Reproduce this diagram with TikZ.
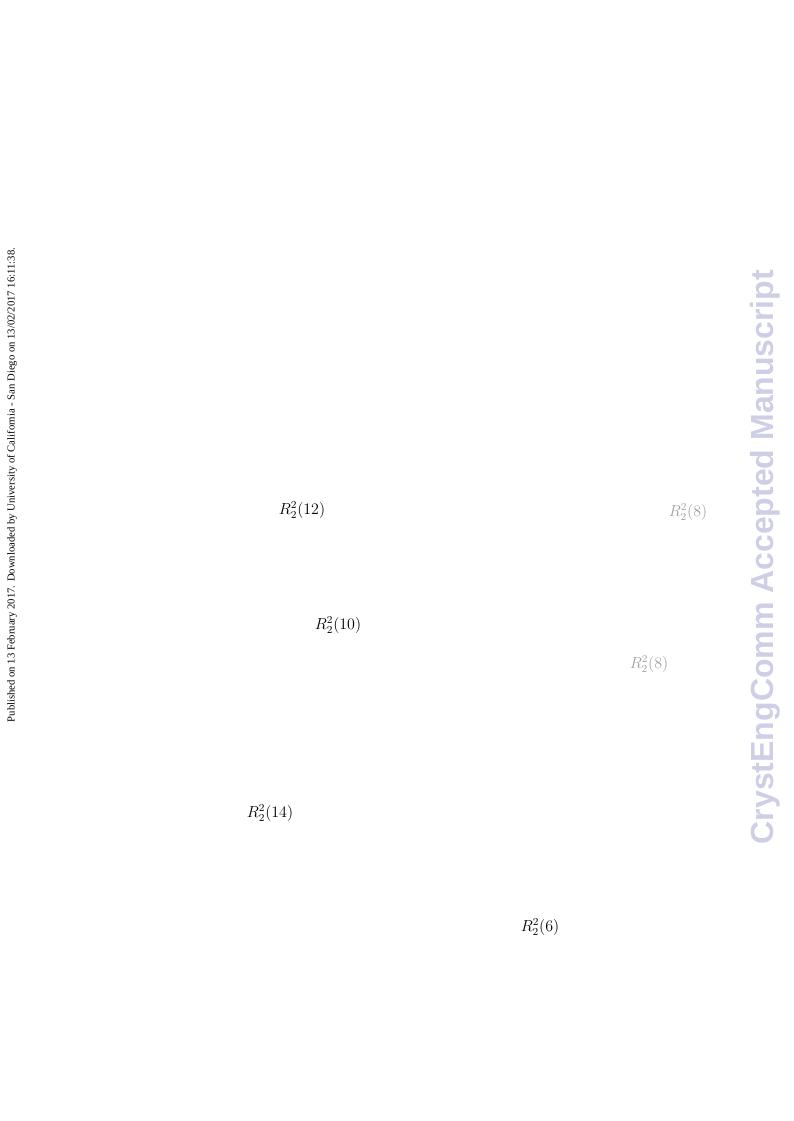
\documentclass[tikz,border=0pt]{standalone}
\usepackage{fontspec}
\usepackage{amsmath}
\setmainfont{Liberation Serif}
\newfontfamily\banner{Liberation Sans}
\usetikzlibrary{positioning}
\definecolor{watermark_lav}{RGB}{206,206,230}
\definecolor{faded_gray}{RGB}{160,160,160}
\tikzset{ring/.style={inner sep=0pt,font=\large},
	fadedring/.style={ring,text=faded_gray}}

\begin{document}
\begin{tikzpicture}[x=0.75pt,y=-0.75pt]
		\useasboundingbox (0,0) rectangle (793,1121);
		% side stamps
		\node[rotate=90,inner sep=0pt,font=\fontsize{8}{9.5}\selectfont] (stamp) at (12,485)
			{Published on 13 February 2017. Downloaded by University of California - San Diego on 13/02/2017 16:11:38.};
		\node[rotate=90,inner sep=0pt,text=watermark_lav,font=\banner\bfseries\fontsize{24}{28}\selectfont] (accepted) at (765,557)
			{CrystEngComm Accepted Manuscript};
		% graph set labels
		\foreach\n/\x/\y/\m in {r12/302/510/12,r10/338/625/10,r14/270/813/14,r6/540/927/6}
		{
			\node[ring] (\n) at (\x,\y) {$R_2^2(\m)$};
		}
		\foreach\n/\x/\y in {ra/688/512,rb/649/664}
		{
			\node[fadedring] (\n) at (\x,\y) {$R_2^2(8)$};
		}
	\end{tikzpicture}
\end{document}
